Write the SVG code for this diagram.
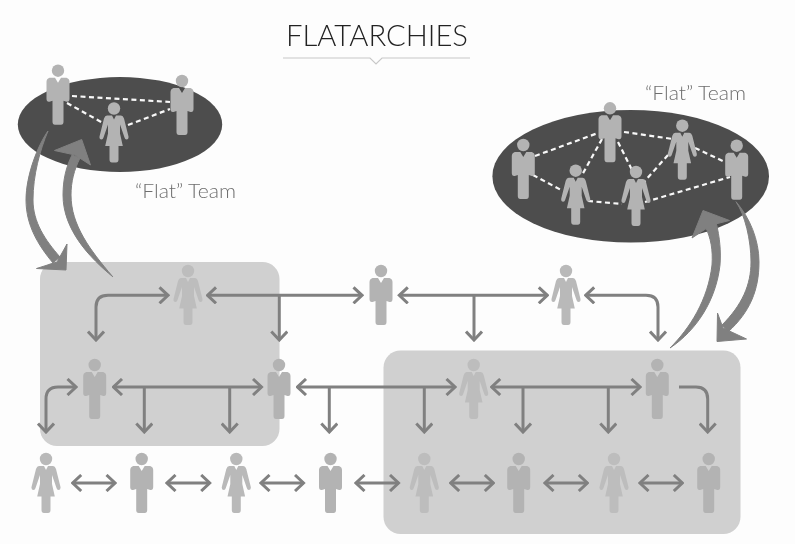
<svg xmlns="http://www.w3.org/2000/svg" width="795" height="544" viewBox="0 0 795 544">
<style>
.bg{fill:#fdfdfd}
.box{fill:#d0d0d0}
.team{fill:#4d4d4d}
.p{fill:#b3b3b3}
.pw{fill:#b9b9b9}
.pb{fill:#bdbdbd}
.pm{fill:#b3b3b3}
.link{fill:none;stroke:#808080;stroke-width:3;stroke-linejoin:round}
.both{marker-start:url(#ah);marker-end:url(#ah)}
.one{marker-end:url(#ah)}
.dash{fill:none;stroke:#f8f8f8;stroke-width:2.2;stroke-dasharray:5 3.5}
.big{fill:#808080;stroke:#808080;stroke-width:1;stroke-linejoin:round}
.title{font-family:"Lato","Open Sans","Liberation Sans",sans-serif;font-weight:300;font-size:30px;fill:#222222}
.lab{font-family:"Lato","Open Sans","Liberation Sans",sans-serif;font-weight:300;font-size:20px;fill:#6e6e6e}
</style>
<defs>
<filter id="soft" x="0" y="0" width="100%" height="100%"><feGaussianBlur stdDeviation="0.55"/></filter>
<marker id="ah" viewBox="-10 -9 12 18" refX="0" refY="0" markerUnits="userSpaceOnUse" markerWidth="12" markerHeight="18" orient="auto-start-reverse">
<path d="M-8.5,-8 L0,0 L-8.5,8" fill="none" stroke="#808080" stroke-width="3" stroke-linejoin="miter"/>
</marker>
<symbol id="man" overflow="visible" viewBox="-15 -7 30 62" x="-15" y="-7" width="30" height="62">
<circle cx="0" cy="0" r="6.2"/>
<path d="M-8.5,7 L-3,7 L0,12 L3,7 L8.5,7 Q11.5,8 11.500,11 V28 Q11.5,31.5 8.5,31 L5.5,30 V51 Q5.5,54 3,54 H-3 Q-5.5,54 -5.5,51 V30 L-8.5,31 Q-11.5,31.5 -11.5,28 V11 Q-11.5,8 -8.5,7Z"/>
</symbol>
<symbol id="woman" overflow="visible" viewBox="-15 -7 30 62" x="-15" y="-7" width="30" height="62">
<circle cx="0" cy="0" r="6.2"/>
<path d="M-7,7 L-2,7 L0,11 L2,7 L7,7 Q9,7 10,10 L14.5,28 Q14.8,31 12.5,31 Q11,31 10.5,29 L6,16 L6,25 L8.8,37.5 H4.5 V51 Q4.5,54 2,54 H-2 Q-4.5,54 -4.5,51 V37.5 H-8.8 L-6,25 V16 L-10.5,29 Q-11,31 -12.5,31 Q-14.8,31 -14.5,28 L-10,10 Q-9,7 -7,7Z"/>
</symbol>
</defs>
<rect class="bg" width="795" height="544"/>
<g filter="url(#soft)">
<g id="title">
<text class="title" x="286" y="45.5" textLength="182" lengthAdjust="spacingAndGlyphs">FLATARCHIES</text>
<path d="M283,58 H370 L376,64 L382,58 H470" fill="none" stroke="#c8c8c8" stroke-width="1.2"/>
</g>
<g id="backgrounds">
<rect class="box" x="40" y="262" width="239.5" height="184" rx="17"/>
<rect class="box" x="383.5" y="350.500" width="357" height="183.500" rx="17"/>
<ellipse class="team" cx="120" cy="124.500" rx="102.200" ry="47.500"/>
<ellipse class="team" cx="630.700" cy="176.300" rx="138.300" ry="66.300"/>
</g>
<g id="labels">
<text class="lab" x="135" y="198" textLength="101" lengthAdjust="spacingAndGlyphs">“Flat” Team</text>
<text class="lab" x="645" y="100" textLength="101" lengthAdjust="spacingAndGlyphs">“Flat” Team</text>
</g>
<g id="connectors">
<path class="dash" d="M72,96 L170,102"/>
<path class="dash" d="M67,103 L103,123"/>
<path class="dash" d="M128,125 L170,109"/>
<path class="dash" d="M535,156 L598,133"/>
<path class="dash" d="M533,175 L563,191"/>
<path class="dash" d="M602,139 L582,175"/>
<path class="dash" d="M618,142 L632,170"/>
<path class="dash" d="M624,132 L673,139"/>
<path class="dash" d="M695,148 L725,162"/>
<path class="dash" d="M668,155 L644,182"/>
<path class="dash" d="M588,201 L622,204"/>
<path class="dash" d="M645,202 L730,177"/>

<path class="big" d="M48,131 C38,145 26,175 26,200 C26,225 38,245 53,263 L60,257 C45,240 33,222 33,200 C33,175 40,150 48,131Z"/>
<path class="big" d="M67,244 L66,270 L36.500,268.500 L57,262Z"/>
<path class="big" d="M112.700,276.700 C90,258 63,230 63,195 C63,180 66,167 72,155 L80,158 C74,170 71,182 71,195 C71,225 90,250 112.700,276.700Z"/>
<path class="big" d="M81.700,139.500 L90.500,165 L75,155 L54.500,150.500Z"/>
<path class="big" d="M670,348 C690,328 708,300 712,265 C713,250 711,238 705,226 L716,222 C720,238 721,252 720,265 C716,300 697,330 670,348Z"/>
<path class="big" d="M703,210.500 L729.500,220.500 L711.500,225 L692,238Z"/>
<path class="big" d="M736,201.700 C745,215 751,240 751,262 C751,285 742,305 722,325 L728,332 C750,312 759,290 759,262 C759,240 750,218 736,201.700Z"/>
<path class="big" d="M717,341.500 L717.500,313 L723,328 L746.500,339Z"/>

<path class="link both" d="M168,295.300 H108 Q96,295.300 96,307 V340"/>
<path class="link both" d="M207.500,295.300 H362"/>
<path class="link one" d="M279.300,295.300 V340"/>
<path class="link both" d="M46,432 V399 Q46,387 58,387 H76"/>
<path class="link both" d="M113.500,387 H261.500"/>
<path class="link one" d="M144.300,387 V432"/>
<path class="link one" d="M229.700,387 V432"/>
<path class="link both" d="M297.500,387 H455"/>
<path class="link one" d="M329.300,387 V432"/>
<path class="link one" d="M424.300,387 V432"/>
<path class="link both" d="M491.700,387 H640"/>
<path class="link one" d="M523,387 V432"/>
<path class="link one" d="M608.300,387 V432"/>
<path class="link one" d="M679,387 H696 Q707.700,387 707.700,399 V432"/>
<path class="link both" d="M399.300,295.300 H547.300"/>
<path class="link one" d="M474,295.300 V340"/>
<path class="link both" d="M585.700,295.300 H646 Q658,295.300 658,307 V340"/>
<path class="link both" d="M72.700,483 H115"/>
<path class="link both" d="M167,483 H209.700"/>
<path class="link both" d="M261,483 H303.500"/>
<path class="link both" d="M356,483 H398.500"/>
<path class="link both" d="M450.700,483 H493.300"/>
<path class="link both" d="M545,483 H587.300"/>
<path class="link both" d="M640,483 H682.300"/>
</g>
<g id="node-a1" class="p"><use href="#man" transform="translate(58,70.700)"/></g>
<g id="node-a2" class="p"><use href="#man" transform="translate(182,81)"/></g>
<g id="node-a3" class="p"><use href="#woman" transform="translate(114,108.500)"/></g>
<g id="node-b1" class="p"><use href="#man" transform="translate(523.300,145)"/></g>
<g id="node-b2" class="p"><use href="#man" transform="translate(610,108.300)"/></g>
<g id="node-b3" class="p"><use href="#woman" transform="translate(682.300,125.700)"/></g>
<g id="node-b4" class="p"><use href="#man" transform="translate(736.700,145.700)"/></g>
<g id="node-b5" class="p"><use href="#woman" transform="translate(575.700,170.700)"/></g>
<g id="node-b6" class="p"><use href="#woman" transform="translate(636,172)"/></g>
<g id="node-r1a" class="pb"><use href="#woman" transform="translate(188,271)"/></g>
<g id="node-r1b" class="p"><use href="#man" transform="translate(381,271)"/></g>
<g id="node-r1c" class="pw"><use href="#woman" transform="translate(566,271)"/></g>
<g id="node-r2a" class="pm"><use href="#man" transform="translate(94.700,365)"/></g>
<g id="node-r2b" class="pm"><use href="#man" transform="translate(279,365)"/></g>
<g id="node-r2c" class="pb"><use href="#woman" transform="translate(473.700,365)"/></g>
<g id="node-r2d" class="pm"><use href="#man" transform="translate(657.300,365)"/></g>
<g id="node-r3a" class="pw"><use href="#woman" transform="translate(46,459)"/></g>
<g id="node-r3b" class="p"><use href="#man" transform="translate(141.700,459)"/></g>
<g id="node-r3c" class="pw"><use href="#woman" transform="translate(236.300,459)"/></g>
<g id="node-r3d" class="p"><use href="#man" transform="translate(330.500,459)"/></g>
<g id="node-r3e" class="pb"><use href="#woman" transform="translate(424.300,459)"/></g>
<g id="node-r3f" class="pm"><use href="#man" transform="translate(518.700,459)"/></g>
<g id="node-r3g" class="pb"><use href="#woman" transform="translate(614,459)"/></g>
<g id="node-r3h" class="pm"><use href="#man" transform="translate(708.700,459)"/></g>
</g>
</svg>
